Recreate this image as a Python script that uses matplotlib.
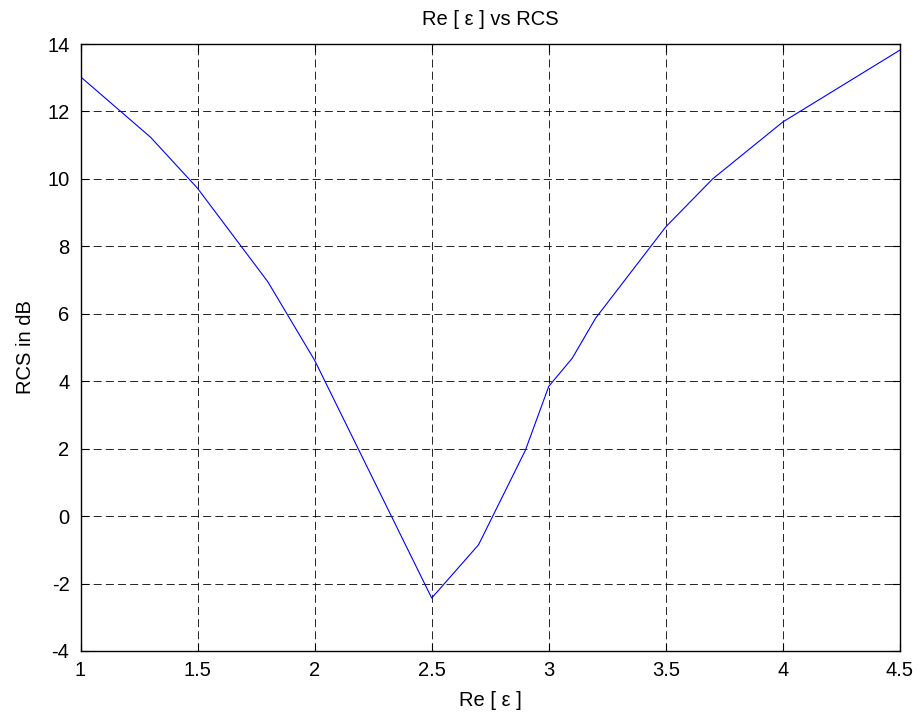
import matplotlib
matplotlib.use('Agg')
import matplotlib.pyplot as plt

plt.rcParams['font.family'] = ['Liberation Sans', 'DejaVu Sans']
plt.rcParams['axes.unicode_minus'] = False
plt.rcParams['mathtext.fontset'] = 'stix'

# Re[eps] values and RCS (dB)
re_eps = [1.0, 1.3, 1.5, 1.8, 2.0, 2.5, 2.7, 2.9, 3.0, 3.1, 3.2, 3.5, 3.7, 4.0, 4.5]
rcs_db = [13.03, 11.23, 9.72, 6.95, 4.62, -2.43, -0.85, 1.95, 3.85, 4.68, 5.87, 8.58, 10.0, 11.69, 13.82]

xticks = [1, 1.5, 2, 2.5, 3, 3.5, 4, 4.5]
xticklabels = ['1', '1.5', '2', '2.5', '3', '3.5', '4', '4.5']
yticks = list(range(-4, 15, 2))

fs = 14.5
eps = r'$\mathregular{\ }\varepsilon\mathregular{\ }$'
fig = plt.figure(figsize=(9.18, 7.17), dpi=100)
ax = fig.add_axes([80.5 / 918, 1 - 651 / 717, (900 - 80.5) / 918, (651 - 44) / 717])

ax.plot(re_eps, rcs_db, color='blue', lw=0.8)

ax.set_xlim(1, 4.5)
ax.set_ylim(-4, 14)
ax.set_xticks(xticks)
ax.set_xticklabels(xticklabels)
ax.set_yticks(yticks)
ax.tick_params(direction='in', top=True, right=True, length=6, width=0.8,
               labelsize=fs)
ax.tick_params(axis='y', pad=8)
ax.tick_params(axis='x', pad=7)
ax.grid(True, color='black', linestyle=(0, (9.6, 5.0)), linewidth=0.6)
for s in ax.spines.values():
    s.set_linewidth(1.0)

ax.set_xlabel('Re [ ε ]', fontsize=fs, labelpad=8)
ax.set_ylabel('RCS in dB', fontsize=fs, labelpad=9)
ax.set_title('Re [ ε ] vs RCS', fontsize=fs, pad=14)

fig.savefig('out.png', dpi=100)
